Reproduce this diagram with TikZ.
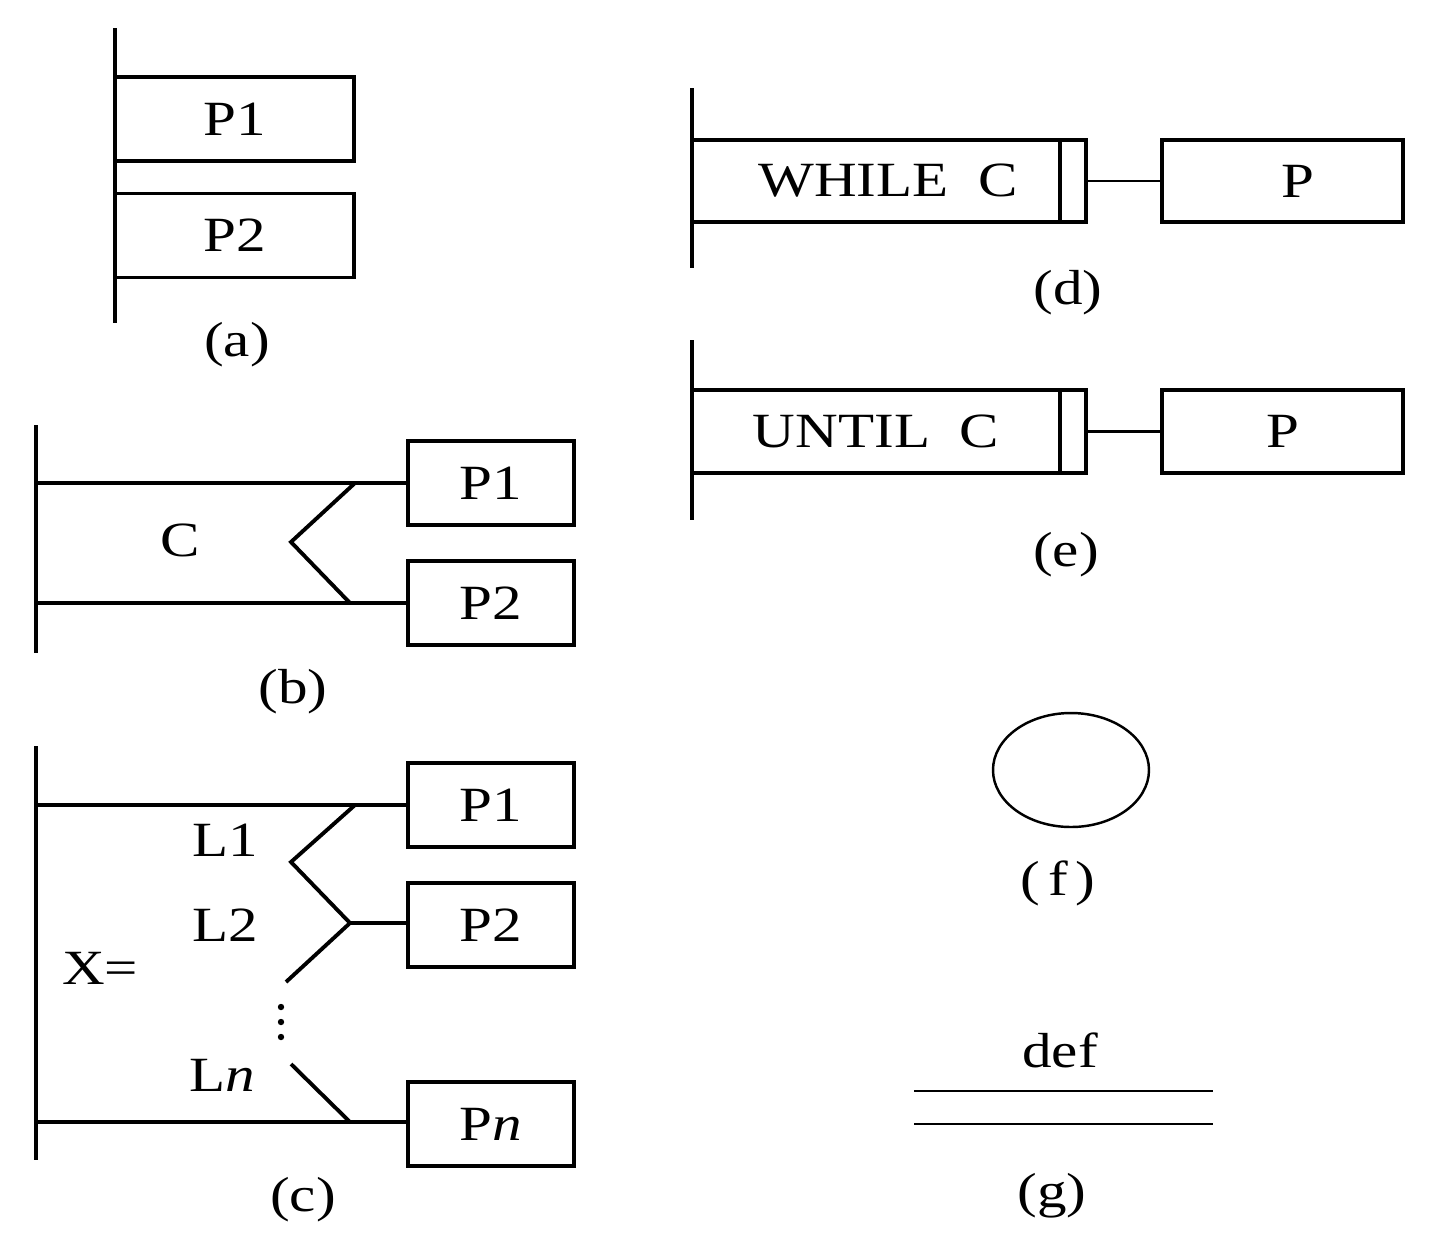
\documentclass[tikz,border=0pt]{standalone}
\usepackage{fontspec}
\setmainfont[FakeStretch=1.2]{Liberation Serif}
\usetikzlibrary{positioning}
\begin{document}
\begin{tikzpicture}[x=0.01cm, y=-0.01cm, font=\fontsize{14}{16}\selectfont]
\tikzstyle{box}=[rectangle, draw, line width=1.1pt, minimum width=1.66cm, minimum height=0.84cm, inner sep=0pt]
\tikzstyle{bar}=[line width=1.1pt]
\tikzstyle{link}=[line width=0.7pt]
\useasboundingbox (0,0) rectangle (1429,1241);
% (a)
\node[box, minimum width=2.39cm] (a1) at (234.5,119) {P1};
\node[box, minimum width=2.39cm] (a2) at (234.5,235.5) {P2};
\draw[bar] (115,28) -- (115,323);
\node (la) at (237,345) {(a)};
% (b)
\node[box] (b1) at (491,483) {P1};
\node[box] (b2) at (491,603) {P2};
\draw[bar] (36,425) -- (36,653);
\draw[bar] (36,483) -- (b1.west);
\draw[bar] (36,603) -- (b2.west);
\draw[bar] (355,483) -- (291,542) -- (350,603);
\node (cb) at (180,540) {C};
\node (lb) at (293,692) {(b)};
% (c)
\node[box] (c1) at (491,805) {P1};
\node[box] (c2) at (491,925) {P2};
\node[box] (cn) at (491,1124) {P\textit{n}};
\draw[bar] (36,746) -- (36,1160);
\draw[bar] (36,805) -- (c1.west);
\draw[bar] (36,1122) -- (cn.west |- 0,1122);
\draw[bar] (355,805) -- (291,862) -- (350,923) -- (286,982);
\draw[bar] (350,923) -- (c2.west |- 0,923);
\draw[bar] (291,1064) -- (350,1122);
\foreach \y in {1007,1022,1037}
  \fill (281,\y) circle (3.2);
\node (l1) at (225,840) {L1};
\node (l2) at (225,925) {L2};
\node (ln) at (222,1075) {L\textit{n}};
\node (xc) at (100,968) {X=};
\node (lc) at (303,1200) {(c)};
% (d)
\draw[bar] (692,88) -- (692,268);
\node[box, minimum width=3.68cm, minimum height=0.82cm] (dw) at (876,181) {\hspace{0.24cm}WHILE\hspace{0.6em}C};
\node[box, minimum width=0.26cm, minimum height=0.82cm] (dk) at (1073,181) {};
\node[box, minimum width=2.41cm, minimum height=0.82cm] (dp) at (1282.5,181) {\hspace{0.3cm}P};
\draw[link] (dk) -- (dp);
\node (ld) at (1068,293) {(d)};
% (e)
\draw[bar] (692,340) -- (692,520);
\node[box, minimum width=3.68cm, minimum height=0.83cm] (ew) at (876,431.5) {UNTIL\hspace{0.6em}C\hspace{0.14cm}};
\node[box, minimum width=0.26cm, minimum height=0.83cm] (ek) at (1073,431.5) {};
\node[box, minimum width=2.41cm, minimum height=0.83cm] (ep) at (1282.5,431.5) {P};
\draw[bar] (ek) -- (ep);
\node (le) at (1066,555) {(e)};
% (f)
\draw[link] (1071,770) ellipse (78 and 57);
\node (lf) at (1058,883) {(\,f\,)};
% (g)
\node (df) at (1060,1050) {def};
\draw[line width=0.8pt] (914,1091) -- (1213,1091);
\draw[line width=0.7pt] (914,1124) -- (1213,1124);
\node (lg) at (1052,1196) {(g)};
\end{tikzpicture}
\end{document}
